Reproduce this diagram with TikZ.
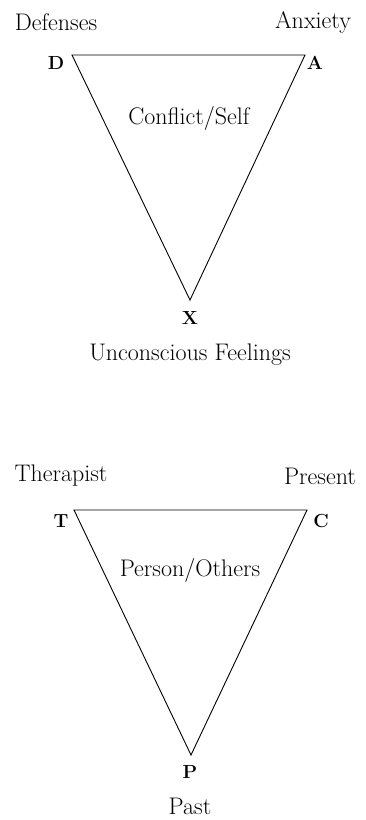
\documentclass[tikz,border=0pt]{standalone}
\usepackage{fontspec}
\begin{document}
\begin{tikzpicture}[x=1pt,y=-1pt,
  lbl/.style={font=\fontsize{24}{28}\selectfont, inner sep=0pt},
  vtx/.style={font=\fontsize{19}{22}\selectfont\bfseries, inner sep=0pt},
  tri/.style={line width=0.9pt, line join=miter}]
\useasboundingbox (0,0) rectangle (365,820);
% Triangle 1
\coordinate (d) at (72,55);
\coordinate (a) at (305,55);
\coordinate (x) at (190,300);
\draw[tri] (d) -- (a) -- (x) -- cycle;
\node[lbl] (defenses) at (56,22) {Defenses};
\node[lbl] (anxiety) at (313,22) {Anxiety};
\node[vtx] (D) at (56,63) {D};
\node[vtx] (A) at (315,63) {A};
\node[lbl] (conflict) at (189,118) {Conflict/Self};
\node[vtx] (X) at (190,318) {X};
\node[lbl] (unc) at (190,355) {Unconscious Feelings};
% Triangle 2
\coordinate (t) at (74,510);
\coordinate (c) at (307,510);
\coordinate (p) at (191,755);
\draw[tri] (t) -- (c) -- (p) -- cycle;
\node[lbl] (therapist) at (61,476) {Therapist};
\node[lbl] (present) at (320,476) {Present};
\node[vtx] (T) at (61,521) {T};
\node[vtx] (C) at (321,521) {C};
\node[lbl] (person) at (190,570) {Person/Others};
\node[vtx] (P) at (190,772) {P};
\node[lbl] (past) at (190,806) {Past};
\end{tikzpicture}
\end{document}
